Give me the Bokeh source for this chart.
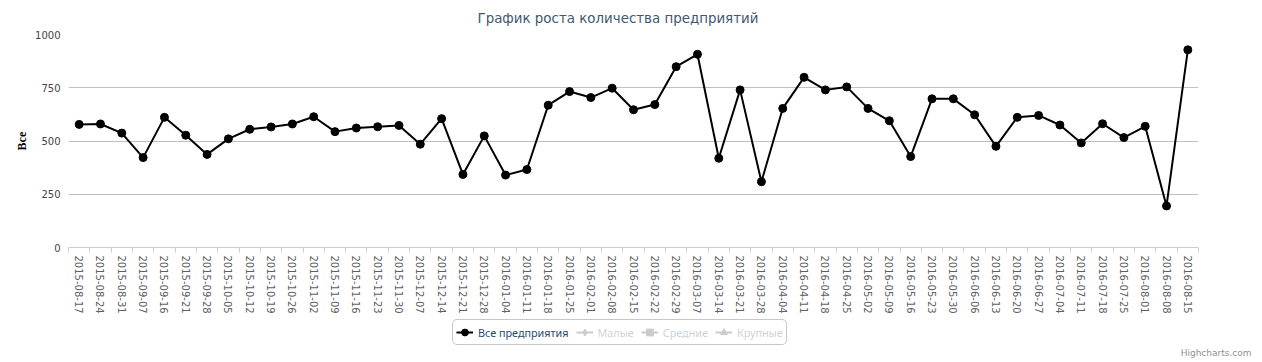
from bokeh.plotting import figure
from bokeh.models import (Range1d, FixedTicker, Legend, LegendItem, Label)
from bokeh.embed import file_html
from bokeh.resources import INLINE

title_text = "График роста количества предприятий"
y_title = "Все"
credits_text = "Highcharts.com"
series_names = ["Все предприятия", "Малые", "Средние", "Крупные"]

dates = [
    "2015-08-17", "2015-08-24", "2015-08-31", "2015-09-07", "2015-09-16",
    "2015-09-21", "2015-09-28", "2015-10-05", "2015-10-12", "2015-10-19",
    "2015-10-26", "2015-11-02", "2015-11-09", "2015-11-16", "2015-11-23",
    "2015-11-30", "2015-12-07", "2015-12-14", "2015-12-21", "2015-12-28",
    "2016-01-04", "2016-01-11", "2016-01-18", "2016-01-25", "2016-02-01",
    "2016-02-08", "2016-02-15", "2016-02-22", "2016-02-29", "2016-03-07",
    "2016-03-14", "2016-03-21", "2016-03-28", "2016-04-04", "2016-04-11",
    "2016-04-18", "2016-04-25", "2016-05-02", "2016-05-09", "2016-05-16",
    "2016-05-23", "2016-05-30", "2016-06-06", "2016-06-13", "2016-06-20",
    "2016-06-27", "2016-07-04", "2016-07-11", "2016-07-18", "2016-07-25",
    "2016-08-01", "2016-08-08", "2016-08-15",
]

all_values = [
    578, 580, 537, 422, 611, 527, 437, 510, 555, 566,
    580, 614, 544, 561, 567, 573, 485, 605, 343, 524,
    340, 366, 668, 732, 704, 748, 647, 671, 849, 907,
    419, 740, 309, 653, 799, 740, 754, 653, 595, 427,
    698, 698, 623, 475, 611, 620, 575, 491, 581, 516,
    569, 195, 928,
]
# hidden series in the reference: no visible data
nan = float("nan")
small_values = [nan]
medium_values = [nan]
large_values = [nan]
legend_swatch = [nan]

y_ticks = [0, 250, 500, 750, 1000]

n = len(dates)
xs = list(range(n))

# ---------------- main chart ----------------
p = figure(width=1262, height=316, output_backend="svg", toolbar_location=None,
           x_range=Range1d(-0.5, n - 0.5), y_range=Range1d(0, 1000),
           min_border_left=68, min_border_right=64, min_border_top=34,
           min_border_bottom=68)
p.outline_line_color = None
p.background_fill_color = "white"
p.border_fill_color = "white"

p.title.text = title_text
p.title.align = "left"
p.title.offset = 409
p.title.text_font = "DejaVu Sans"
p.title.text_font_size = "13.4px"
p.title.text_font_style = "normal"
p.title.text_color = "#3E576F"
p.title.standoff = 17
p.title.vertical_align = "bottom"

p.xgrid.visible = False
p.ygrid.ticker = FixedTicker(ticks=y_ticks)
p.ygrid.grid_line_color = "#C0C0C0"
p.ygrid.grid_line_width = 1

xa = p.xaxis[0]
xa.ticker = FixedTicker(ticks=xs, minor_ticks=[i - 0.5 for i in range(n + 1)])
xa.major_label_overrides = {i: d for i, d in enumerate(dates)}
xa.major_label_orientation = "vertical"
xa.major_label_text_font = "DejaVu Sans"
xa.major_label_text_font_size = "10px"
xa.major_label_text_color = "#606060"
xa.major_label_standoff = 3
xa.major_tick_line_color = None
xa.major_tick_out = 0
xa.major_tick_in = 0
xa.minor_tick_line_color = "#C0D0E0"
xa.minor_tick_out = 5
xa.minor_tick_in = 0
xa.axis_line_color = "#C0D0E0"
xa.axis_line_width = 1

ya = p.yaxis[0]
ya.ticker = FixedTicker(ticks=y_ticks)
ya.axis_line_color = None
ya.major_tick_line_color = None
ya.minor_tick_line_color = None
ya.major_tick_out = 0
ya.major_tick_in = 0
ya.major_label_standoff = 8
ya.major_label_text_font = "DejaVu Sans"
ya.major_label_text_font_size = "10px"
ya.major_label_text_color = "#444444"
ya.axis_label = y_title
ya.axis_label_text_font = "Liberation Serif"
ya.axis_label_text_font_style = "bold"
ya.axis_label_text_font_size = "12px"
ya.axis_label_text_color = "#000000"
ya.axis_label_standoff = 3

p.line(xs, all_values, line_color="black", line_width=2)
p.scatter(xs, all_values, marker="circle", size=8, fill_color="black", line_color="black")

# ---------------- legend + credits strip ----------------
lg = figure(width=1262, height=46, output_backend="svg", toolbar_location=None,
            x_axis_type=None, y_axis_type=None,
            x_range=Range1d(0, 1), y_range=Range1d(0, 1),
            min_border_left=0, min_border_right=0, min_border_top=0, min_border_bottom=0)
lg.outline_line_color = None
lg.background_fill_color = "white"
lg.border_fill_color = "white"
lg.xgrid.visible = False
lg.ygrid.visible = False

hidden_color = "#333333"
l_all = lg.line(legend_swatch, legend_swatch, line_color="black", line_width=2)
m_all = lg.scatter(legend_swatch, legend_swatch, marker="circle", size=8,
                   fill_color="black", line_color="black")
l_small = lg.line(small_values, small_values, line_color=hidden_color, line_width=2, visible=False)
m_small = lg.scatter(small_values, small_values, marker="diamond", size=10,
                     fill_color=hidden_color, line_color=hidden_color, visible=False)
l_med = lg.line(medium_values, medium_values, line_color=hidden_color, line_width=2, visible=False)
m_med = lg.scatter(medium_values, medium_values, marker="square", size=8,
                   fill_color=hidden_color, line_color=hidden_color, visible=False)
l_large = lg.line(large_values, large_values, line_color=hidden_color, line_width=2, visible=False)
m_large = lg.scatter(large_values, large_values, marker="triangle", size=8,
                     fill_color=hidden_color, line_color=hidden_color, visible=False)

legend = Legend(items=[
    LegendItem(label=series_names[0], renderers=[l_all, m_all]),
    LegendItem(label=series_names[1], renderers=[l_small, m_small]),
    LegendItem(label=series_names[2], renderers=[l_med, m_med]),
    LegendItem(label=series_names[3], renderers=[l_large, m_large]),
], orientation="horizontal", location=(452, 17), click_policy="hide")
legend.label_text_font = "Noto Sans"
legend.label_text_font_size = "10.8px"
legend.label_text_color = "#274b6d"
legend.label_standoff = 5
legend.glyph_width = 17
legend.glyph_height = 18
legend.spacing = 7
legend.padding = 3
legend.margin = 0
legend.border_line_color = "#909090"
legend.border_line_width = 1
legend.background_fill_color = "white"
legend.background_fill_alpha = 1
legend.inactive_fill_color = "white"
legend.inactive_fill_alpha = 0.75
if "border_radius" in Legend.properties():
    legend.border_radius = 5
lg.add_layout(legend)

credits = Label(x=1251, y=10, x_units="screen", y_units="screen", text=credits_text,
                text_align="right", text_baseline="middle",
                text_font="DejaVu Sans", text_font_size="9px", text_color="#909090")
lg.add_layout(credits)

open("out.html", "w").write(file_html([p, lg], INLINE))
